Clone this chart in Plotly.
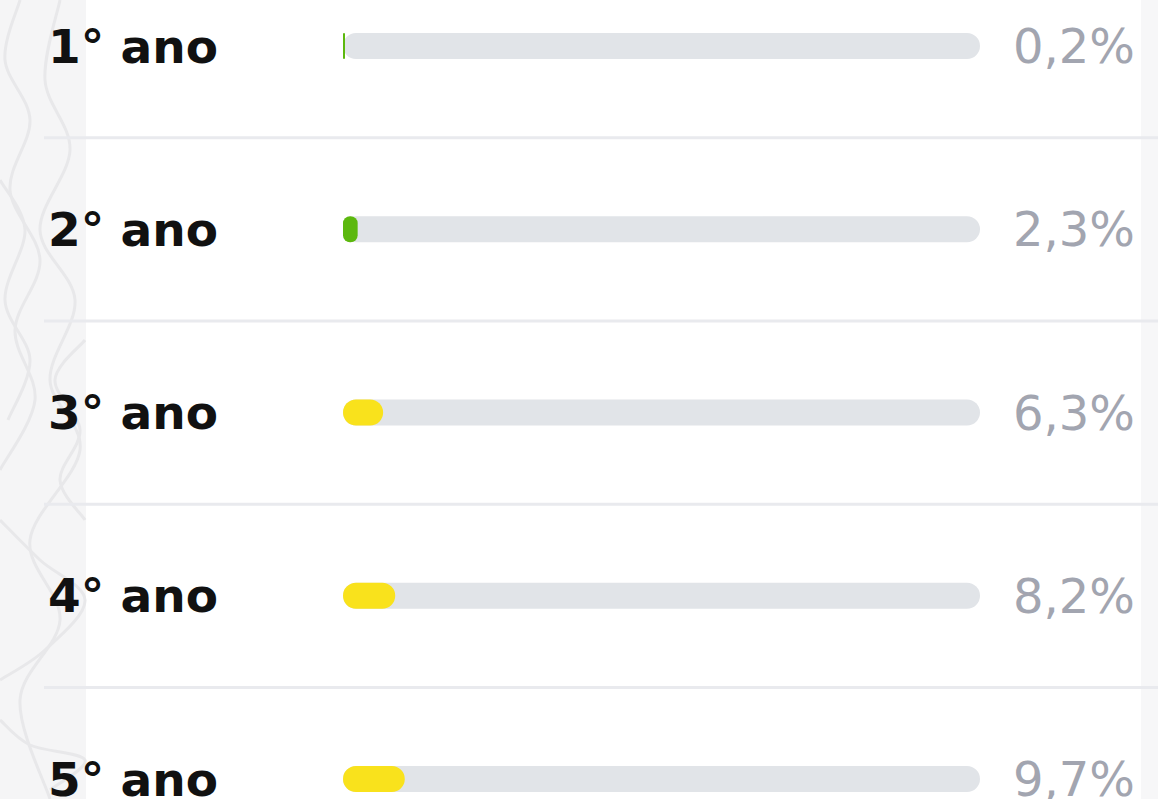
import plotly.graph_objects as go

categories = ["1° ano", "2° ano", "3° ano", "4° ano", "5° ano"]
values = [0.2, 2.3, 6.3, 8.2, 9.7]
value_labels = ["0,2%", "2,3%", "6,3%", "8,2%", "9,7%"]
bar_colors = ["#5cb80e", "#5cb80e", "#f9e21c", "#f9e21c", "#f9e21c"]
track_max = [100] * len(categories)

W, H = 1158, 799
L, R = 343, 980
ypos = list(range(len(categories)))
BW = 0.142

fig = go.Figure()
fig.add_trace(go.Bar(
    x=track_max, base=[0] * len(categories),
    y=ypos, orientation="h", width=BW,
    marker=dict(color="#e1e4e8", line=dict(width=0)),
    hoverinfo="skip", showlegend=False,
))
fig.add_trace(go.Bar(
    x=values, base=[0] * len(categories),
    y=ypos, orientation="h", width=BW,
    marker=dict(color=bar_colors, line=dict(width=0)),
    hovertemplate="%{x}%<extra></extra>",
    showlegend=False,
))


def px(xp):
    return (xp - L) / (R - L)


def py(yp):
    return 1 - yp / H


shapes = []
# left textured panel and right strip
shapes.append(dict(type="rect", xref="paper", yref="paper",
                   x0=px(0), x1=px(86), y0=0, y1=1,
                   fillcolor="#f5f5f6", line=dict(width=0), layer="below"))
shapes.append(dict(type="rect", xref="paper", yref="paper",
                   x0=px(1141), x1=px(W), y0=0, y1=1,
                   fillcolor="#f7f7f8", line=dict(width=0), layer="below"))


def smooth_path(pts):
    # Catmull-Rom to cubic Bezier
    P = [(px(x), py(y)) for x, y in pts]
    d = f"M {P[0][0]:.5f},{P[0][1]:.5f}"
    for i in range(len(P) - 1):
        p0 = P[i - 1] if i > 0 else P[i]
        p1, p2 = P[i], P[i + 1]
        p3 = P[i + 2] if i + 2 < len(P) else P[i + 1]
        c1 = (p1[0] + (p2[0] - p0[0]) / 6, p1[1] + (p2[1] - p0[1]) / 6)
        c2 = (p2[0] - (p3[0] - p1[0]) / 6, p2[1] - (p3[1] - p1[1]) / 6)
        d += f" C {c1[0]:.5f},{c1[1]:.5f} {c2[0]:.5f},{c2[1]:.5f} {p2[0]:.5f},{p2[1]:.5f}"
    return d


# faint topographic contour lines in the left panel
contours = [
    [(20, 0), (5, 60), (30, 120), (10, 190), (40, 260), (15, 330), (35, 400), (0, 470)],
    [(60, 0), (45, 80), (70, 150), (40, 230), (75, 300), (50, 380), (80, 450), (30, 540), (60, 620), (20, 700), (50, 799)],
    [(0, 180), (25, 230), (5, 300), (30, 360), (8, 420)],
    [(0, 520), (40, 560), (85, 600), (45, 650), (0, 680)],
    [(0, 720), (30, 745), (85, 760), (50, 790)],
    [(85, 340), (55, 380), (80, 430), (60, 480), (85, 520)],
]
for c in contours:
    shapes.append(dict(type="path", xref="paper", yref="paper", path=smooth_path(c),
                       line=dict(color="#e8e8ea", width=3), layer="below"))

# separators between rows
for i in range(len(categories) - 1):
    shapes.append(dict(type="line", xref="paper", yref="y",
                       x0=px(44), x1=px(W), y0=i + 0.5, y1=i + 0.5,
                       line=dict(color="#e9eaee", width=3), layer="below"))

annotations = []
for i, (cat, lab) in enumerate(zip(categories, value_labels)):
    annotations.append(dict(xref="paper", yref="y", x=px(46), y=i, text=cat,
                            showarrow=False, xanchor="left", yanchor="middle",
                            font=dict(family="DejaVu Sans", size=47, color="#111111", weight=700)))
    annotations.append(dict(xref="paper", yref="y", x=px(1137), y=i, text=lab,
                            showarrow=False, xanchor="right", yanchor="middle",
                            font=dict(family="DejaVu Sans", size=48, color="#a2a5b0")))

fig.update_layout(
    width=W, height=H,
    margin=dict(l=L, r=W - R, t=0, b=0),
    paper_bgcolor="#ffffff", plot_bgcolor="rgba(0,0,0,0)",
    barmode="overlay", barcornerradius=13,
    xaxis=dict(range=[0, 100], visible=False, fixedrange=True),
    yaxis=dict(range=[4.109, -0.251], visible=False, fixedrange=True),
    shapes=shapes, annotations=annotations,
)

fig.write_html("out.html", config={"displayModeBar": False},
               post_script="document.body.style.margin='0';document.body.style.overflow='hidden';")
